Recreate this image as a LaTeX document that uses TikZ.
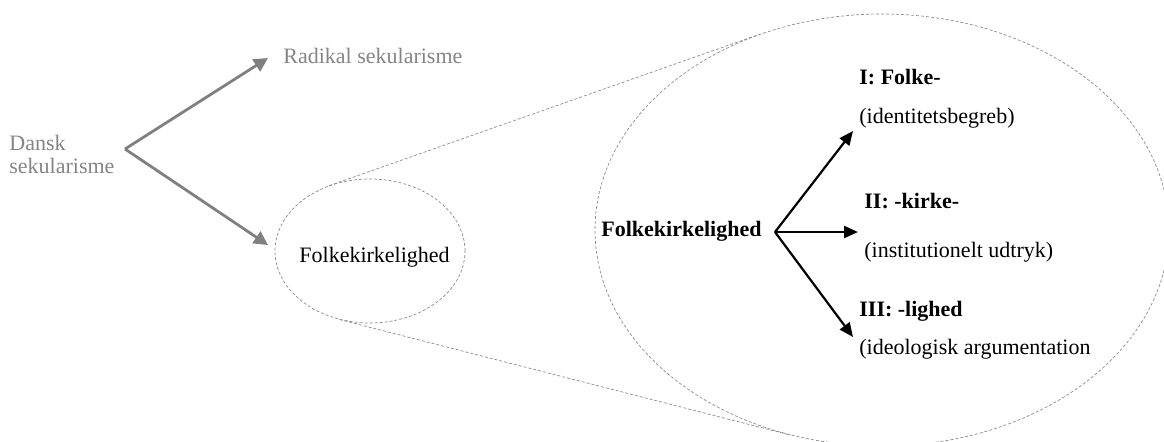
\documentclass[tikz,border=0pt]{standalone}
\usepackage{fontspec}
\setmainfont{Liberation Serif}
\usetikzlibrary{positioning}
\usetikzlibrary{shapes.geometric}
\usetikzlibrary{arrows.meta}
\tikzset{
  font={\fontsize{11pt}{10pt}\selectfont}
}
\def\greyText{black!48}
\def\greyLine{black!50}
\def\dashLine{black!45}
\tikzstyle{lens}=[ellipse,draw=\dashLine,line width=0.35pt,dash pattern=on 1.5pt off 1pt,inner sep=0pt]
\tikzstyle{zoomline}=[draw=\dashLine,line width=0.35pt,dash pattern=on 1.5pt off 1pt]
\tikzstyle{branchGrey}=[-{Triangle[length=7pt,width=7pt]},line width=1.4pt,draw=\greyLine]
\tikzstyle{branchBlack}=[-{Triangle[length=7pt,width=6pt]},line width=1.1pt,draw=black]
\tikzstyle{plainlabel}=[inner sep=0pt,anchor=base west]
\tikzstyle{greylabel}=[plainlabel,text=\greyText]
\tikzstyle{boldlabel}=[plainlabel,font=\fontsize{11pt}{10pt}\selectfont\bfseries]
\newcommand{\zoomLens}{
    \node[lens,minimum width=95pt,minimum height=72pt] (small-lens) at (370,251) {};
    \node[lens,minimum width=287pt,minimum height=216pt] (big-lens) at (882,230) {};
    
    \draw[zoomline] (small-lens.122) -- (big-lens.122);
    \draw[zoomline] (small-lens.246) -- (big-lens.246);
}
\newcommand{\partLabels}{ 
    \foreach \i/\xp/\yt/\yg/\ytip/\title/\gloss in {
        I/859/84/123/131/{I: Folke-}/{(identitetsbegreb)},
        II/864/208/257/232/{II: -kirke-}/{(institutionelt udtryk)},
        III/859/316/354/337/{III: -lighed}/{(ideologisk argumentation}} {
        \node[boldlabel] (part-\i) at (\xp,\yt) {\title};
        \node[plainlabel] (gloss-\i) at (\xp,\yg) {\gloss};
        \coordinate (tip-\i) at (\xp-6,\ytip);
    }
}

\begin{document}
\begin{tikzpicture}[x=0.5pt,y=-0.5pt]
    \useasboundingbox (0,0) rectangle (1164,441);
    \zoomLens
    
    % left side: dansk sekularisme splits in two
    \node[greylabel,anchor=west,align=left] (dansk) at (9,154) {Dansk\\[1.5pt]sekularisme};
    \node[greylabel] (radikal) at (283,63) {Radikal sekularisme};
    \node[plainlabel] (small-label) at (299,262) {Folkekirkelighed};
    \coordinate (dansk-fork) at (125,149);
    \coordinate (radikal-tip) at (268,58);
    \coordinate (folke-tip) at (268,245);
    \draw[branchGrey] (dansk-fork) -- (radikal-tip);
    \draw[branchGrey] (dansk-fork) -- (folke-tip);
    
    % inside the big lens
    \node[boldlabel] (hub) at (601,236) {Folkekirkelighed};
    \coordinate (hub-fork) at (775,232);
    \partLabels
    \foreach \i in {I,II,III}
        \draw[branchBlack] (hub-fork) -- (tip-\i);
\end{tikzpicture}
\end{document}
